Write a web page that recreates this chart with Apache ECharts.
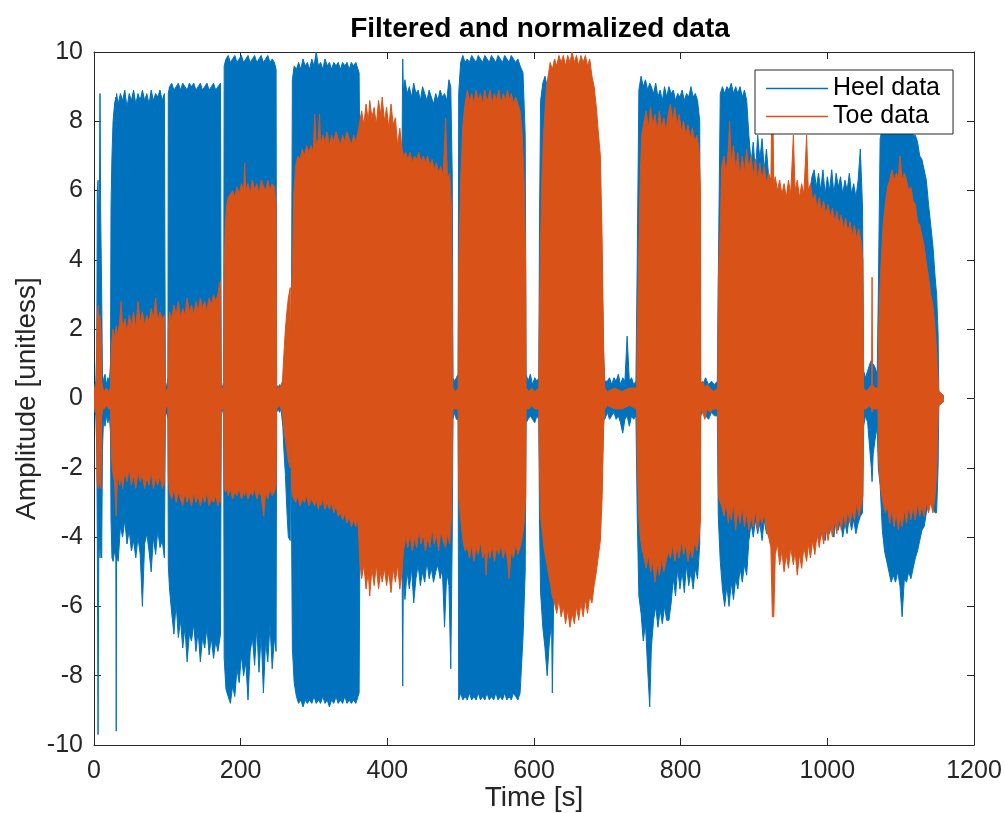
<!DOCTYPE html>
<html>
<head>
<meta charset="utf-8">
<script src="https://cdn.jsdelivr.net/npm/echarts@6/dist/echarts.min.js"></script>
<style>html,body{margin:0;padding:0;background:#fff;}#chart{width:1005px;height:813px;}</style>
</head>
<body>
<div id="chart"></div>
<script>
// Envelope of each signal: [time (s), upper amplitude, lower amplitude]
const heelEnvelope = [
[0,0.3,-0.3],[2.5,0.5,-0.5],[3.8,1.5,-1.5],[4.5,6.0,-4.0],[5.5,6.3,-9.7],[6.5,5.0,-4.5],[7.5,6.2,-4.0],[8.2,8.8,-4.6],[9,5.5,-4.2],[10.5,3.0,-4.6],[11.5,0.7,-1.5],
[13,0.5,-0.6],[15,0.7,-0.8],[17,0.4,-0.5],[19,0.6,-0.7],[21,0.5,-0.5],[22.5,1.0,-1.0],
[23.2,5.5,-3.5],[24.5,7.0,-4.6],[26,8.0,-4.7],[28,8.5,-4.4],[29.8,8.7,-4.6],[30.3,8.6,-9.6],[30.8,8.8,-4.5],[33,8.5,-4.7],[36,8.8,-3.7],[39,8.6,-4.0],[42,8.9,-3.5],[45,8.4,-4.2],[48,8.8,-3.8],[51,8.6,-4.4],[54,8.9,-4.1],[57,8.5,-4.6],[60,8.8,-4.0],[63,8.6,-4.5],[66,8.9,-6.0],[69,8.6,-4.2],[72,8.8,-3.9],[75,8.5,-4.4],[78,8.9,-5.0],[81,8.6,-4.0],[84,8.8,-4.5],[87,8.7,-3.8],[90,8.9,-4.3],[93,8.6,-4.1],[96,8.8,-4.6],
[97.3,0.5,-0.5],[99,0.3,-0.4],[100.8,0.6,-0.6],
[101.3,8.8,-4.8],[103,9.0,-5.5],[106,9.1,-6.2],[109,8.9,-6.8],[112,9.0,-5.9],[115,9.1,-6.9],[118,8.9,-6.4],[121,9.1,-7.2],[124,9.0,-6.6],[127,8.9,-7.6],[130,9.1,-6.8],[133,9.0,-7.0],[136,9.1,-6.5],[139,8.9,-7.3],[142,9.0,-6.7],[145,9.1,-7.6],[148,8.9,-6.9],[151,9.0,-7.2],[154,9.1,-6.6],[157,8.9,-7.4],[160,9.0,-6.9],[163,9.1,-7.5],[166,8.9,-7.0],[169,9.0,-7.3],[172.5,9.1,-6.8],
[173.5,0.4,-0.4],[175,0.3,-0.3],[176.8,0.5,-0.5],
[177.5,9.6,-7.5],[180,9.8,-8.4],[183,9.9,-8.6],[186,9.7,-8.8],[189,9.8,-8.3],[192,9.9,-8.6],[195,9.7,-7.8],[198,9.8,-8.2],[201,9.9,-7.4],[204,9.7,-8.0],[207,9.8,-7.6],[210,9.9,-8.7],[213,9.7,-7.3],[216,9.8,-6.9],[219,9.9,-7.7],[222,9.7,-6.6],[225,9.8,-7.9],[228,9.9,-6.8],[231,9.7,-8.5],[234,9.8,-7.0],[237,9.9,-7.6],[240,9.7,-6.5],[243,9.8,-7.8],[246,9.7,-6.9],[248.3,9.5,-7.3],
[249,0.4,-0.4],[251,0.3,-0.3],[253,0.4,-0.4],[255,0.3,-0.3],[257.5,0.5,-0.8],[259,0.8,-1.5],[261,1.0,-2.2],[263,1.5,-3.2],[265,2.0,-4.0],[267.6,2.2,-4.1],[268.3,0.2,-0.2],[269.2,2.0,-3.0],
[270.5,9.2,-7.2],[273,9.6,-8.2],[276,9.5,-8.6],[279,9.7,-8.8],[282,9.5,-8.7],[285,9.8,-8.9],[288,9.6,-8.7],[291,9.7,-8.8],[294,9.5,-8.7],[297,9.8,-8.8],[300,9.6,-8.6],[303,10.0,-8.8],[306,9.6,-8.7],[309,9.7,-8.8],[312,9.5,-8.6],[315,9.8,-8.8],[318,9.6,-8.7],[321,9.7,-8.9],[324,9.5,-8.7],[327,9.7,-8.8],[330,9.6,-8.6],[333,9.7,-8.8],[336,9.5,-8.7],[339,9.7,-8.8],[342,9.6,-8.6],[345,9.7,-8.8],[348,9.5,-8.7],[351,9.7,-8.8],[354,9.6,-8.7],[357,9.7,-8.8],[360,9.5,-8.6],[361.5,9.4,-8.5],
[362.5,7.0,-4.5],[370,7.0,-4.5],[380,7.2,-4.4],[390,7.4,-4.6],[400,7.2,-4.5],[410,7.0,-4.4],[420,7.0,-4.3],
[421,9.8,-8.3],[421.8,8.9,-5.2],[424,9.2,-5.8],[427,8.8,-5.0],[430,9.0,-5.5],[433,8.7,-4.9],[436,9.1,-5.9],[439,8.8,-5.2],[442,8.9,-4.8],[445,8.6,-5.4],[448,9.0,-5.0],[451,8.8,-5.3],[454,8.6,-4.7],[457,8.9,-5.2],[460,8.7,-4.9],[463,8.5,-5.3],[466,8.8,-5.0],[469,8.6,-4.8],[472,8.9,-5.2],[475,8.7,-4.9],[478,8.8,-6.6],[481,8.6,-5.0],[484,9.2,-5.4],[486.5,9.0,-7.8],[488.5,6.5,-4.0],
[489.5,0.6,-0.6],[492,0.5,-0.4],[494,0.6,-0.6],[496.5,0.7,-0.6],
[497.3,8.8,-8.7],[500,9.7,-8.5],[503,9.9,-8.7],[506,9.7,-8.6],[509,9.8,-8.7],[512,9.7,-8.5],[515,9.9,-8.7],[518,9.8,-8.6],[521,9.7,-8.7],[524,9.9,-8.5],[527,9.8,-8.7],[530,9.7,-8.6],[533,9.9,-8.7],[536,9.8,-8.5],[539,9.7,-8.7],[542,9.9,-8.6],[545,9.8,-8.7],[548,9.7,-8.5],[551,9.9,-8.7],[554,9.8,-8.6],[557,9.7,-8.7],[560,9.9,-8.5],[563,9.8,-8.7],[566,9.7,-8.6],[569,9.9,-8.7],[572,9.8,-8.5],[575,9.7,-8.6],[578,9.8,-8.7],[581,9.6,-8.5],[585,9.4,-6.9],[588,7.6,-5.0],
[589.2,0.7,-0.7],[592,0.5,-0.6],[595,0.7,-0.5],[598,0.4,-0.6],[601,0.6,-0.7],[604,0.5,-0.5],[606.5,0.6,-0.6],
[607.5,5.0,-3.5],[609,8.6,-5.6],[612,9.1,-6.6],[615,9.3,-7.2],[618,9.0,-8.0],[621,9.3,-7.0],[624,9.2,-6.5],[625,9.0,-8.5],[627,8.8,-5.5],[632,8.5,-5.3],[640,8.5,-5.2],[650,8.5,-5.3],[660,8.5,-5.3],[670,8.5,-5.2],[680,8.3,-5.0],[690,6.5,-3.8],[695,1.2,-0.6],
[696.5,0.5,-0.6],[700,0.5,-0.4],[703,0.6,-0.6],[706,0.4,-0.5],[709,0.6,-0.4],[712,0.5,-0.6],[715,0.7,-0.5],[718,0.4,-0.7],[721,0.6,-1.0],[724,0.5,-0.6],[727,1.8,-0.5],[730,0.5,-0.8],[733,0.6,-0.5],[736,0.4,-0.6],[739,0.5,-0.5],
[740.8,4.0,-3.4],[743,8.9,-5.7],[746,9.3,-6.2],[749,9.0,-7.0],[752,9.2,-6.5],[755,8.9,-7.8],[757.8,9.1,-8.9],[760,9.0,-7.2],[763,8.8,-6.4],[766,9.1,-6.0],[769,8.7,-6.6],[772,8.9,-6.1],[775,8.6,-6.5],[778,9.0,-6.0],[781,8.7,-6.4],[784,9.0,-6.4],[787,8.8,-5.9],[790,8.9,-5.2],[793,8.6,-5.7],[796,8.8,-4.9],[799,8.7,-5.5],[802,8.9,-5.0],[805,8.6,-5.6],[808,8.8,-4.8],[811,8.7,-5.4],[814,9.0,-5.0],[817,8.7,-5.5],[820,8.8,-4.9],[823,8.6,-5.2],[826,8.0,-4.2],
[827.2,0.5,-0.5],[830,0.4,-0.4],[834,0.6,-0.5],[838,0.4,-0.6],[842,0.5,-0.4],[846,0.4,-0.5],[850,0.5,-0.5],
[851.3,3.5,-3.4],[854,8.8,-4.7],[857,9.0,-5.5],[860,8.8,-6.0],[863,9.0,-5.4],[866,8.9,-6.0],[869,9.1,-5.3],[872,8.8,-5.8],[875,9.0,-5.2],[878,8.8,-5.5],[881,9.0,-4.9],[884,8.7,-5.3],[887,8.9,-4.8],[890,8.6,-5.1],[893,7.6,-4.1],[896,6.8,-3.6],[899,7.4,-4.0],[902,6.5,-3.5],[905,7.6,-3.9],[908,6.9,-3.6],[911,7.5,-4.1],[914,6.6,-3.5],[917,7.2,-3.9],[920,6.4,-3.6],
[925,5.6,-3.8],[935,5.6,-3.9],[945,5.6,-3.8],[955,5.6,-3.9],[965,5.6,-3.8],[975,5.8,-3.9],[979,6.4,-4.0],[982,6.6,-3.9],[985,6.1,-4.1],[988,6.5,-3.6],[991,6.0,-4.0],[994,6.6,-3.7],[997,5.9,-4.1],[1000,6.4,-3.5],[1003,6.0,-3.9],[1006,6.6,-3.6],[1009,5.9,-4.0],[1012,6.5,-3.4],[1015,6.1,-3.8],[1018,6.4,-3.5],[1021,5.9,-4.0],[1024,6.3,-3.6],[1027,6.0,-3.9],[1030,6.5,-3.4],[1033,5.9,-3.8],[1036,6.2,-3.5],[1039,5.8,-3.9],[1042,6.3,-3.6],[1045,7.2,-3.4],[1048,5.5,-3.3],
[1049.5,0.8,-0.8],[1052,0.6,-0.5],[1055,0.8,-0.7],[1058,1.0,-1.5],[1060,1.1,-2.0],[1061,0.8,-2.4],[1062.5,1.0,-1.6],[1065,0.9,-1.2],[1068,0.7,-0.8],
[1069.5,3.0,-2.0],[1072,7.5,-2.5],[1075,7.8,-3.8],[1078,8.0,-4.4],[1081,7.8,-4.7],[1084,8.0,-5.0],[1087,7.9,-5.3],[1090,8.0,-5.1],[1093,7.8,-5.3],[1096,8.0,-5.0],[1099,7.9,-5.4],[1102,8.0,-6.3],[1105,7.8,-5.2],[1108,7.9,-5.3],[1111,7.7,-5.0],[1114,7.8,-5.2],[1117,7.6,-4.9],[1120,7.6,-4.6],[1123,7.4,-4.4],[1126,7.0,-4.1],[1129,6.9,-3.8],[1132,6.6,-3.7],[1135,6.3,-3.3],[1138,5.6,-3.0],[1141,5.0,-2.8],[1144,4.4,-3.2],[1147,3.5,-3.3],[1149,3.0,-3.3],[1151,1.9,-2.0],
[1152,0.2,-0.2],[1158,0.1,-0.1]
];

const toeEnvelope = [
[0,0.2,-0.2],[3.5,0.5,-0.5],[4.3,2.3,-2.4],[6,2.7,-2.6],[7,2.2,-2.3],[8,2.4,-2.5],[9.5,2.0,-2.6],[10.5,0.5,-0.5],
[12,0.3,-0.3],[14,0.2,-0.3],[17,0.3,-0.2],[20,0.2,-0.3],[22.5,0.3,-0.3],
[23.3,1.2,-1.2],[24.5,1.7,-1.9],[26,2.0,-2.2],[28,1.7,-2.4],[30.3,2.1,-3.4],[32,1.8,-2.1],[35,2.2,-2.5],[37,2.8,-2.2],[39,2.0,-2.6],[42,2.3,-2.1],[45,1.9,-2.4],[48,2.4,-2.0],[51,2.1,-2.5],[54,2.5,-2.2],[57,2.0,-2.6],[60,2.8,-2.1],[63,2.2,-2.4],[66,2.5,-2.2],[69,2.1,-2.6],[72,2.4,-2.3],[75,2.2,-2.5],[78,2.6,-2.1],[81,2.3,-2.6],[84,2.9,-2.3],[87,2.2,-2.5],[90,2.5,-2.2],[93,2.3,-2.6],[96,2.4,-2.4],
[97.3,0.3,-0.3],[99,0.2,-0.2],[100.8,0.3,-0.3],
[101.3,2.0,-2.2],[103,2.5,-2.7],[106,2.3,-2.9],[109,2.7,-2.6],[112,2.4,-3.0],[115,2.8,-2.7],[118,2.3,-2.9],[121,2.6,-3.1],[124,2.4,-2.7],[127,2.9,-3.0],[130,2.5,-2.8],[133,2.7,-3.1],[136,2.4,-2.7],[139,2.8,-3.0],[142,2.5,-2.8],[145,2.9,-3.1],[148,2.6,-2.8],[151,2.8,-3.0],[154,2.5,-2.7],[157,2.9,-3.1],[160,2.7,-2.9],[163,3.0,-3.0],[166,2.8,-2.8],[169,3.0,-3.1],[171,3.3,-2.9],[172.5,3.4,-3.0],
[173.5,0.3,-0.3],[176.8,0.3,-0.3],
[177.5,3.5,-2.5],[179,5.0,-2.7],[181,5.6,-2.6],[183,5.8,-2.8],[186,5.9,-2.6],[189,6.0,-2.9],[192,5.8,-2.7],[195,6.1,-2.8],[198,5.9,-2.6],[201,6.2,-2.9],[204,6.0,-2.7],[205.5,6.8,-2.8],[207,6.0,-2.6],[210,6.2,-2.9],[213,5.9,-2.7],[216,6.3,-2.8],[219,6.0,-2.6],[222,6.2,-2.9],[225,5.9,-2.7],[228,6.3,-2.8],[231.5,6.1,-3.4],[234,6.0,-2.7],[237,6.3,-2.9],[240,6.0,-2.6],[243,6.2,-2.8],[246,6.1,-2.7],[248.3,5.6,-2.5],
[249,0.3,-0.3],[253,0.3,-0.2],[257,0.5,-0.4],[259,1.3,-0.9],[261,2.0,-1.2],[263,2.5,-1.5],[265,2.9,-1.8],[267.6,3.2,-2.0],[268.3,0.2,-0.2],[269.2,3.0,-2.5],
[270.5,3.7,-2.8],[272.5,5.9,-2.9],[275,6.7,-3.0],[278,7.0,-2.8],[281,6.9,-3.1],[284,7.2,-2.9],[287,7.0,-3.0],[290,7.3,-2.8],[293,7.1,-3.1],[296,7.3,-2.9],[299,7.1,-3.0],[301,8.2,-3.1],[303,7.3,-2.9],[306,7.5,-3.2],[307.5,8.2,-3.0],[309,7.3,-3.1],[312,7.6,-2.9],[315,7.4,-3.2],[318,7.7,-3.0],[321,7.3,-3.2],[324,7.6,-3.0],[327,7.4,-3.3],[330,7.7,-3.1],[333,7.5,-3.4],[336,7.3,-3.3],[339,7.6,-3.5],[342,7.4,-3.3],[345,7.7,-3.6],[348,7.5,-3.4],[351,7.3,-3.7],[354,7.6,-3.5],[357,7.4,-3.7],[360,7.7,-3.5],
[362.5,8.0,-4.7],[365,8.3,-5.2],[368,7.9,-4.8],[371,8.5,-5.5],[374,8.0,-5.0],[376,8.6,-5.7],[379,8.1,-4.9],[382,8.4,-5.4],[385,7.9,-4.8],[388,8.6,-5.5],[391,8.2,-5.0],[393,8.7,-5.3],[396,8.0,-4.9],[399,8.4,-5.4],[402,7.8,-5.0],[405,8.5,-5.6],[408,7.9,-4.9],[411,8.1,-5.3],[414,7.3,-4.8],[417,7.8,-5.5],[420,7.2,-5.0],
[422,7.0,-4.4],[425,7.1,-4.0],[428,6.9,-4.3],[431,7.1,-3.9],[434,6.8,-4.4],[437,7.0,-4.0],[440,6.9,-4.3],[443,7.1,-3.8],[446,6.8,-4.2],[449,7.0,-3.9],[452,6.8,-4.4],[455,7.0,-4.0],[458,6.7,-4.3],[461,6.9,-3.7],[464,6.6,-4.2],[467,6.8,-3.9],[470,6.5,-4.4],[473,6.7,-3.8],[476,6.4,-4.1],[479.5,8.1,-4.3],[482,6.3,-3.9],[485,6.5,-4.2],[487.5,5.5,-3.4],
[489.5,0.3,-0.3],[493,0.2,-0.3],[496.5,0.3,-0.3],
[497.3,3.7,-2.8],[500,6.3,-3.5],[503,7.9,-4.1],[506,8.5,-4.4],[509,8.9,-4.3],[512,8.6,-4.6],[515,8.8,-4.2],[518,8.5,-4.7],[521,8.9,-4.3],[524,8.6,-4.5],[527,8.8,-4.1],[530,8.5,-4.6],[533,8.9,-4.4],[534.5,8.7,-5.1],[537,8.6,-4.3],[540,8.9,-4.6],[543,8.5,-4.2],[546,8.8,-4.7],[549,8.6,-4.3],[552,8.9,-4.5],[555,8.5,-4.2],[558,8.8,-4.6],[561,8.6,-4.3],[564,8.9,-4.7],[566,8.6,-5.2],[569,8.8,-4.4],[572,8.5,-4.6],[575,8.7,-4.2],[578,8.5,-4.5],[581,8.3,-4.3],[584,7.6,-4.0],[587,6.0,-3.5],[588.7,3.7,-2.8],
[589.2,0.3,-0.3],[593,0.2,-0.3],[597,0.3,-0.2],[601,0.2,-0.3],[606.5,0.3,-0.3],
[607.5,2.5,-2.0],[609,4.6,-3.4],[611,6.5,-3.8],[613,7.6,-4.2],[615,8.3,-4.5],[617,9.0,-4.7],[620,9.4,-5.1],[622,9.7,-5.3],[625,9.5,-5.7],[628,9.8,-5.9],[631,9.6,-6.2],[634,9.9,-5.8],[637,9.7,-6.3],[640,9.9,-6.0],[643,9.6,-6.5],[646,9.9,-6.1],[649,9.7,-6.6],[652,10.0,-6.2],[655,9.7,-6.5],[658,9.9,-6.0],[661,9.6,-6.4],[664,9.9,-5.9],[667,9.7,-6.3],[670,9.9,-5.8],[673,9.6,-6.2],[676,9.8,-5.7],[679,9.3,-5.9],[682,9.0,-5.4],[685,8.4,-5.0],[688,7.6,-4.5],[690.5,7.0,-4.1],[693,4.5,-2.8],[695,1.4,-0.8],
[696.5,0.3,-0.3],[700,0.2,-0.2],[710,0.3,-0.3],[720,0.2,-0.3],[730,0.3,-0.2],[740,0.3,-0.3],
[740.8,2.0,-2.0],[743,4.4,-3.4],[745,6.5,-4.0],[747,7.6,-4.3],[750,8.0,-4.6],[753,8.3,-4.9],[756,7.8,-4.5],[759,8.4,-5.0],[762,7.9,-4.7],[765,8.2,-5.3],[768,7.7,-4.8],[771,8.3,-5.1],[774,7.8,-4.6],[777,8.1,-5.0],[780,7.7,-4.7],[783,8.2,-4.4],[786,8.5,-4.6],[789,8.0,-4.2],[792,8.4,-4.7],[795,7.9,-4.3],[798,8.2,-4.6],[801,7.7,-4.1],[804,8.0,-4.5],[807,7.6,-4.2],[810,7.9,-4.7],[813,7.5,-4.3],[816,7.8,-4.6],[819,7.4,-4.1],[822,7.6,-4.4],[825,7.2,-4.0],[827,6.0,-3.5],
[827.5,0.4,-0.3],[830,0.5,-0.4],[833,0.3,-0.6],[836,0.4,-0.3],[840,0.3,-0.4],[845,0.2,-0.3],[850.5,0.3,-0.3],
[851.5,3.5,-2.8],[854,5.0,-3.0],[856,6.7,-3.1],[859,7.0,-3.4],[862,6.5,-3.0],[865,7.2,-3.6],[866.7,8.0,-3.2],[869,6.8,-3.5],[872,7.3,-3.0],[875,6.6,-3.8],[878,7.1,-3.2],[881,6.4,-3.6],[884,7.0,-3.1],[887,6.5,-3.7],[890,7.2,-3.3],[893,6.6,-3.8],[896,7.0,-3.4],[899,6.4,-3.7],[902,6.9,-3.2],[905,6.3,-3.8],[908,6.8,-3.4],[911,6.3,-3.6],[914,6.7,-3.3],[917,6.2,-3.8],[920,6.5,-4.0],[923,6.3,-4.3],[925,9.4,-6.3],[927,6.2,-6.3],[929,6.4,-4.5],[932,6.0,-4.2],[935,6.3,-4.8],[938,5.9,-4.4],[941,6.2,-5.0],[944,5.8,-4.5],[947,6.3,-4.9],[950,5.9,-4.3],[953.7,7.6,-4.8],[956,6.0,-4.4],[959,6.3,-5.1],[962,5.8,-4.5],[965,6.2,-4.9],[968,5.9,-4.3],[971.8,7.6,-4.7],[974,6.0,-4.2],[977,6.2,-4.6],[980,5.7,-4.1],[983,5.9,-4.5],[986,5.5,-3.9],[989,5.8,-4.3],[992,5.4,-3.8],[995,5.7,-4.2],[998,5.3,-3.7],[1001,5.6,-4.1],[1004,5.2,-3.6],[1007,5.5,-4.0],[1010,5.1,-3.5],[1013,5.4,-3.9],[1016,5.0,-3.4],[1019,5.3,-3.8],[1022,4.9,-3.3],[1025,5.2,-3.7],[1028,4.8,-3.2],[1031,5.1,-3.6],[1034,4.7,-3.2],[1037,5.0,-3.5],[1040,4.6,-3.0],[1043,4.9,-3.4],[1046,4.5,-3.1],[1048.5,4.0,-2.8],
[1049.5,0.3,-0.3],[1053,0.2,-0.3],[1057,0.3,-0.2],[1060.3,0.4,-0.3],[1061,3.5,-0.4],[1061.7,0.4,-0.3],[1065,0.3,-0.3],[1069,0.3,-0.3],
[1070,2.0,-1.8],[1072,3.3,-2.4],[1074,4.2,-2.8],[1076,5.0,-3.0],[1079,5.6,-3.3],[1082,6.1,-3.1],[1085,6.3,-3.6],[1088,6.6,-3.2],[1091,6.3,-3.7],[1094,6.5,-3.3],[1097,6.4,-3.8],[1099,7.0,-3.4],[1102,6.3,-3.7],[1105,6.5,-3.2],[1108,6.3,-3.6],[1111,6.0,-3.1],[1114,6.1,-3.5],[1117,5.7,-3.1],[1120,5.6,-3.5],[1123,5.1,-3.0],[1126,5.0,-3.4],[1129,4.7,-3.1],[1132,4.4,-3.4],[1135,3.9,-3.0],[1138,3.5,-3.3],[1141,3.0,-3.0],[1144,2.7,-3.3],[1147,2.0,-2.8],[1149,1.4,-2.2],[1151,0.5,-0.5],
[1152,0.2,-0.2],[1158,0.1,-0.1]
];

const seriesNames = ['Heel data', 'Toe data'];
const seriesColors = ['#0072BD', '#D95319'];
const xTicks = { min: 0, max: 1200, interval: 200 };
const yTicks = { min: -10, max: 10, interval: 2 };

const FONT = 'Liberation Sans, Arial, Helvetica, sans-serif';
const AX = '#262626';

function bandRenderer(env) {
  return function (params, api) {
    const pts = [];
    for (let i = 0; i < env.length; i++) pts.push(api.coord([env[i][0], env[i][1]]));
    for (let i = env.length - 1; i >= 0; i--) pts.push(api.coord([env[i][0], env[i][2]]));
    const c = api.visual('color');
    return {
      type: 'polygon',
      shape: { points: pts },
      style: { fill: c, stroke: c, lineWidth: 1 }
    };
  };
}

const chart = echarts.init(document.getElementById('chart'), null, { renderer: 'canvas' });

const baseAxis = {
  axisLine: { show: true, onZero: false, lineStyle: { color: AX, width: 1 } },
  axisTick: { show: true, inside: true, length: 7, lineStyle: { color: AX } },
  splitLine: { show: false },
  axisLabel: { color: AX, fontSize: 25, fontFamily: FONT, formatter: v => String(v) },
  nameTextStyle: { color: AX, fontSize: 28, fontFamily: FONT }
};

chart.setOption({
  animation: false,
  backgroundColor: '#fff',
  title: {
    text: 'Filtered and normalized data',
    left: 535,
    textAlign: 'center',
    top: 10,
    textStyle: { fontSize: 28, fontWeight: 'bold', color: '#000', fontFamily: FONT }
  },
  grid: { left: 94, right: 31, top: 52, bottom: 68, containLabel: false, outerBoundsMode: 'none' },
  legend: {
    orient: 'vertical',
    left: 755,
    top: 70,
    padding: [6, 13, 5, 11],
    itemGap: 3,
    itemWidth: 62,
    itemHeight: 1.5,
    backgroundColor: '#fff',
    borderColor: AX,
    borderWidth: 1,
    textStyle: { fontSize: 25, color: '#000', fontFamily: FONT },
    data: seriesNames.map(n => ({ name: n, icon: 'rect' }))
  },
  xAxis: [
    Object.assign({}, baseAxis, {
      type: 'value', position: 'bottom', min: xTicks.min, max: xTicks.max, interval: xTicks.interval,
      name: 'Time [s]', nameLocation: 'middle', nameGap: 39, nameMoveOverlap: false,
      axisLabel: Object.assign({}, baseAxis.axisLabel, { margin: 14 })
    }),
    Object.assign({}, baseAxis, {
      type: 'value', position: 'top', min: xTicks.min, max: xTicks.max, interval: xTicks.interval,
      axisLabel: { show: false }
    })
  ],
  yAxis: [
    Object.assign({}, baseAxis, {
      type: 'value', position: 'left', min: yTicks.min, max: yTicks.max, interval: yTicks.interval,
      name: 'Amplitude [unitless]', nameLocation: 'middle', nameGap: 53, nameRotate: 90, nameMoveOverlap: false,
      axisLabel: Object.assign({}, baseAxis.axisLabel, { margin: 11 })
    }),
    Object.assign({}, baseAxis, {
      type: 'value', position: 'right', min: yTicks.min, max: yTicks.max, interval: yTicks.interval,
      axisLabel: { show: false }
    })
  ],
  series: [
    {
      type: 'custom', name: seriesNames[0], xAxisIndex: 0, yAxisIndex: 0,
      renderItem: bandRenderer(heelEnvelope), data: [[0, 0]], clip: true, silent: true,
      itemStyle: { color: seriesColors[0] }, z: 2
    },
    {
      type: 'custom', name: seriesNames[1], xAxisIndex: 0, yAxisIndex: 0,
      renderItem: bandRenderer(toeEnvelope), data: [[0, 0]], clip: true, silent: true,
      itemStyle: { color: seriesColors[1] }, z: 3
    }
  ]
});
</script>
</body>
</html>
